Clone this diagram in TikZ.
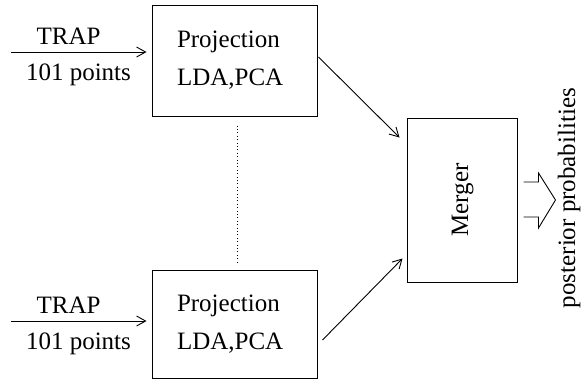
\documentclass[tikz,border=0pt]{standalone}
\usepackage{fontspec}
\setmainfont{Liberation Serif}
\usetikzlibrary{arrows.meta,positioning,calc}

\begin{document}
\begin{tikzpicture}[x=0.5pt, y=-0.5pt,
    every node/.style={font=\fontsize{12.5}{19}\selectfont},
    procbox/.style={draw, line width=0.5pt, text width=57.5pt, inner xsep=12.5pt,
      inner ysep=0pt, align=left},
    flow/.style={-{Straight Barb[length=4.5pt,width=5pt]}, line width=0.45pt}]
    \useasboundingbox (0,0) rectangle (583,381);

    % Projection boxes
    \node[procbox, minimum height=55.5pt] (proj1) at (234.5,60.5) {Projection\\LDA,PCA};
    \node[procbox, minimum height=54pt] (proj2) at (234.5,324) {Projection\\LDA,PCA};
    \draw[line width=0.5pt, dash pattern=on 0.5pt off 1.2pt, shorten <=4.5pt, shorten >=2.5pt]
      ([xshift=1.25pt]proj1.south) -- ([xshift=1.25pt]proj2.north);

    % Merger box
    \node[draw, line width=0.5pt, minimum width=55pt, minimum height=82pt] (merger) at (462,200) {};
    \node[rotate=90, anchor=base] (mergerlbl) at (468,200) {Merger};

    % TRAP inputs
    \coordinate (in1) at (11,52);
    \coordinate (in2) at (11,321);
    \foreach \src/\dst in {in1/proj1, in2/proj2} {
      \draw[flow, shorten >=2.5pt] (\src) -- (\src -| \dst.west)
        node[pos=0.41, above] {TRAP}
        node[pos=0.48, below=2.3pt] {101 points};
    }

    % Projections into merger
    \draw[flow] ([shift={(1,-3.5)}]proj1.east) -- ([shift={(-7,20)}]merger.north west);
    \draw[flow] ([shift={(5,16)}]proj2.east) -- ([shift={(-4,-24)}]merger.south west);

    % Hollow output arrow
    \coordinate (outarr) at ([xshift=3pt]merger.east);
    \draw[line width=0.45pt] ([shift={(0,-18)}]outarr) -- ++(15,0) -- ++(0,-9)
      -- ([shift={(32,0)}]outarr) -- ([shift={(15,28)}]outarr) -- ++(0,-11) -- ++(-15,0);
    \node[rotate=90, anchor=base] (postlbl) at (575,198) {posterior probabilities};
\end{tikzpicture}
\end{document}
